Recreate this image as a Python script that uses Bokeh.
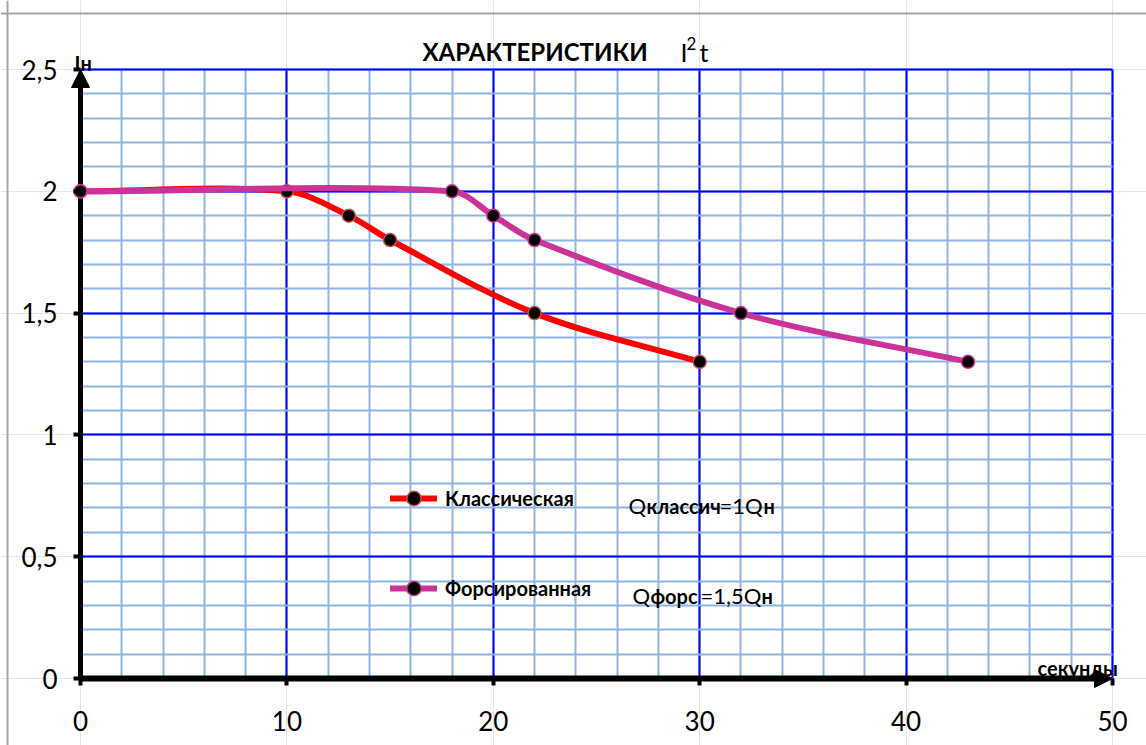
from bokeh.plotting import figure
from bokeh.models import (Range1d, SingleIntervalTicker, Label, Arrow, NormalHead,
                          Legend, LegendItem, Span, LinearAxis, Grid)
from bokeh.embed import file_html
from bokeh.resources import INLINE

# ---- data ----
classic_x = [0, 10, 13, 15, 22, 30]
classic_y = [2.0, 2.0, 1.9, 1.8, 1.5, 1.3]
forced_x = [0, 18, 20, 22, 32, 43]
forced_y = [2.0, 2.0, 1.9, 1.8, 1.5, 1.3]

x_ticks = [0, 10, 20, 30, 40, 50]
x_tick_labels = ["0", "10", "20", "30", "40", "50"]
y_ticks = [0, 0.5, 1, 1.5, 2, 2.5]
y_tick_labels = ["0", "0,5", "1", "1,5", "2", "2,5"]

RED = "#FF0000"
MAG = "#CC3399"
TICKFONT = "'Liberation Sans Narrow', Lato"
BOLDFONT = "Lato"

# ---- layout (pixels) ----
W, H = 1146, 745
X0PX, X1PX = 80.0, 1112.0    # pixel of x=0 and x=50
Y0PX, Y1PX = 678.0, 69.0     # pixel of y=0 and y=2.5
XMAX, YMAX = 50.0, 2.5
SX = (X1PX - X0PX) / XMAX
SY = (Y0PX - Y1PX) / YMAX


def px2x(px):
    return (px - X0PX) / SX


def px2y(py):
    return (Y0PX - py) / SY


p = figure(width=W, height=H, output_backend="svg", toolbar_location=None,
           x_range=Range1d(px2x(0), px2x(W)), y_range=Range1d(px2y(H), px2y(0)),
           x_axis_location=None, y_axis_location=None, min_border=0)
p.title.visible = False
p.outline_line_color = None
p.background_fill_color = "white"
p.border_fill_color = "white"

xt = SingleIntervalTicker(interval=10, num_minor_ticks=5)
yt = SingleIntervalTicker(interval=0.5, num_minor_ticks=5)

# outer chart border (top and left edges visible in the picture)
p.add_layout(Span(location=px2y(13), dimension="width", line_color="#A6A6A6",
                  line_width=2, level="underlay"))
p.add_layout(Span(location=px2x(7), dimension="height", line_color="#A6A6A6",
                  line_width=2, level="underlay"))

# grid
for dim, tk, b, cb in ((0, xt, (0, XMAX), (0, YMAX)), (1, yt, (0, YMAX), (0, XMAX))):
    g = Grid(dimension=dim, ticker=tk, bounds=b, cross_bounds=cb,
             grid_line_color="#0000FF", grid_line_width=2,
             minor_grid_line_color="#8DB4E2", minor_grid_line_width=2)
    p.add_layout(g)

# axes at data zero
xaxis = LinearAxis(fixed_location=0, bounds=(0, XMAX), ticker=xt)
yaxis = LinearAxis(fixed_location=0, bounds=(0, YMAX), ticker=yt)
for ax in (xaxis, yaxis):
    ax.axis_line_color = None
    ax.major_tick_line_color = "black"
    ax.major_tick_line_width = 4
    ax.major_tick_in = 0
    ax.major_tick_out = 7
    ax.minor_tick_line_color = None
    ax.major_label_text_font = TICKFONT
    ax.major_label_text_font_size = "26px"
    ax.major_label_text_color = "black"
xaxis.major_label_overrides = {t: l for t, l in zip(x_ticks, x_tick_labels)}
yaxis.major_label_overrides = {t: l for t, l in zip(y_ticks, y_tick_labels)}
xaxis.major_label_standoff = 25
yaxis.major_label_standoff = 16
p.add_layout(xaxis, "below")
p.add_layout(yaxis, "left")

# axis arrows
p.add_layout(Arrow(end=NormalHead(size=18, fill_color="black", line_color="black"),
                   x_start=0, y_start=0, x_end=0, y_end=YMAX,
                   line_width=5, line_color="black", level="underlay"))
p.add_layout(Arrow(end=NormalHead(size=18, fill_color="black", line_color="black"),
                   x_start=0, y_start=0, x_end=XMAX, y_end=0,
                   line_width=6, line_color="black", level="underlay"))


def ctrl_points(xs, ys):
    """Excel-like smoothing: Catmull-Rom tangents scaled by screen segment lengths."""
    n = len(xs)
    d = [(((xs[i + 1] - xs[i]) * SX) ** 2 + ((ys[i + 1] - ys[i]) * SY) ** 2) ** 0.5
         for i in range(n - 1)]

    def tangent(i):
        im = max(i - 1, 0)
        ip = min(i + 1, n - 1)
        return xs[ip] - xs[im], ys[ip] - ys[im]

    cx0, cy0, cx1, cy1 = [], [], [], []
    for i in range(n - 1):
        tx, ty = tangent(i)
        dprev = d[i - 1] if i > 0 else 0.0
        f = d[i] / (dprev + d[i]) / 3.0
        cx0.append(xs[i] + tx * f)
        cy0.append(ys[i] + ty * f)
        tx, ty = tangent(i + 1)
        dnext = d[i + 1] if i + 1 < n - 1 else 0.0
        f = d[i] / (d[i] + dnext) / 3.0
        cx1.append(xs[i + 1] - tx * f)
        cy1.append(ys[i + 1] - ty * f)
    return dict(x0=xs[:-1], y0=ys[:-1], x1=xs[1:], y1=ys[1:],
                cx0=cx0, cy0=cy0, cx1=cx1, cy1=cy1)


series = []
for xs, ys, col, edge in ((classic_x, classic_y, RED, "#C0504D"),
                          (forced_x, forced_y, MAG, MAG)):
    cp = ctrl_points(xs, ys)
    b = p.bezier(x0=cp["x0"], y0=cp["y0"], x1=cp["x1"], y1=cp["y1"],
                 cx0=cp["cx0"], cy0=cp["cy0"], cx1=cp["cx1"], cy1=cp["cy1"],
                 line_color=col, line_width=6, line_cap="round")
    s = p.scatter(xs, ys, size=13, fill_color="black", line_color=edge, line_width=1.5)
    series.append((b, s))

GH = 36
legend = Legend(items=[LegendItem(label="Классическая", renderers=list(series[0])),
                       LegendItem(label="Форсированная", renderers=list(series[1]))],
                location=(390, H - (588 + GH / 2)), orientation="vertical", spacing=90 - GH,
                glyph_width=47, glyph_height=GH, label_height=GH, label_standoff=8,
                padding=0, margin=0, background_fill_alpha=0, border_line_color=None,
                label_text_font=BOLDFONT, label_text_font_style="bold",
                label_text_font_size="20px", label_text_color="black")
p.add_layout(legend)


def lab(px, py, text, size, bold=False, font=BOLDFONT):
    p.add_layout(Label(x=px2x(px), y=px2y(py), text=text, text_font=font, text_font_size=size,
                       text_font_style="bold" if bold else "normal",
                       text_baseline="alphabetic", text_align="left", text_color="black"))


# title
lab(422, 51, "ХАРАКТЕРИСТИКИ", "24px", bold=True)
lab(680, 51, "I", "25px", font=TICKFONT)
lab(686, 43, "2", "17px", font=TICKFONT)
lab(699, 51, "t", "25px", font=TICKFONT)

# axis captions
lab(74, 62, "Iн", "20px", bold=True)
lab(1037, 667, "секунды", "20px", bold=True)

# legend extra text
lab(628, 505, "Q", "22px", font=TICKFONT)
lab(646, 505, "классич", "20px", bold=True)
lab(719, 505, "=1Q", "22px", font=TICKFONT)
lab(763, 505, "н", "20px", bold=True)
lab(632, 595, "Q", "22px", font=TICKFONT)
lab(650, 595, "форс", "20px", bold=True)
lab(700, 595, "=1,5Q", "22px", font=TICKFONT)
lab(761, 595, "н", "20px", bold=True)

open("out.html", "w").write(file_html(p, INLINE))
